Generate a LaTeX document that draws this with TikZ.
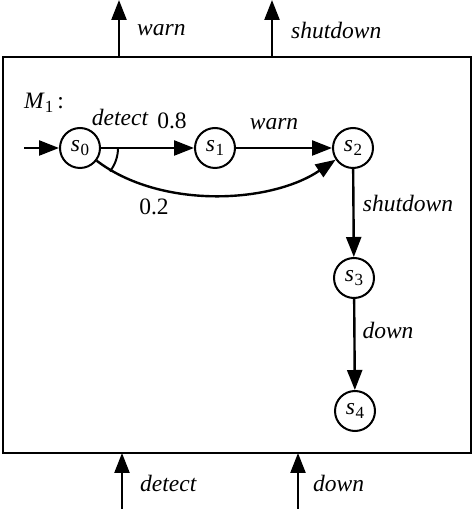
\documentclass[tikz,border=0pt]{standalone}
\usepackage{fontspec}
\setmainfont{Liberation Serif}
\usetikzlibrary{arrows.meta}
\newcommand{\stl}[1]{\textit{s}\kern0.5pt\raisebox{-0.4ex}{\fontsize{17}{17}\selectfont #1}}
\begin{document}
\begin{tikzpicture}[x=1pt,y=1pt,
  every node/.style={font=\fontsize{23.5}{27}\selectfont},
  state/.style={draw,circle,line width=2pt,minimum size=40pt,inner sep=0pt},
  edge/.style={line width=2.4pt,-{Triangle[length=20pt,width=15pt]}},
  lbl/.style={font=\fontsize{23.5}{27}\selectfont\itshape,inner sep=0pt},
  num/.style={font=\fontsize{23.5}{27}\selectfont,inner sep=0pt}]
\useasboundingbox (0,0) rectangle (474,509);
\draw[line width=2.6pt] (3,56) rectangle (471,452);
% top outputs
\coordinate (t1a) at (119,452); \coordinate (t1b) at (119,509);
\coordinate (t2a) at (272,452); \coordinate (t2b) at (272,509);
\draw[edge] (t1a) -- (t1b);
\draw[edge] (t2a) -- (t2b);
\node[lbl,anchor=west] (ow) at (137,479) {warn};
\node[lbl,anchor=west] (os) at (291,479) {shutdown};
% bottom inputs
\coordinate (b1a) at (122,0); \coordinate (b1b) at (122,56);
\coordinate (b2a) at (298,0); \coordinate (b2b) at (298,56);
\draw[edge] (b1a) -- (b1b);
\draw[edge] (b2a) -- (b2b);
\node[lbl,anchor=west] (id) at (140,26) {detect};
\node[lbl,anchor=west] (idn) at (313,26) {down};
% states
\node[state] (s0) at (80,361) {\stl{0}};
\node[state] (s1) at (215,361) {\stl{1}};
\node[state] (s2) at (353,361) {\stl{2}};
\node[state] (s3) at (354,231) {\stl{3}};
\node[state] (s4) at (355,98) {\stl{4}};
\node[inner sep=0pt] (m1) at (44,406) {\textit{M}\raisebox{-0.4ex}{\fontsize{17}{17}\selectfont 1}\,:};
\coordinate (init) at (24,361);
\draw[edge] (init) -- (s0);
\draw[edge] (s0) -- (s1);
\draw[edge] (s1) -- (s2);
\draw[edge] (s0) .. controls (160,300) and (270,305) .. (s2);
\draw[edge] (s2) -- (s3);
\draw[edge] (s3) -- (s4);
\draw[line width=2pt] ([shift={(0:38)}]s0.center) arc[start angle=0,end angle=-38,radius=38];
\node[lbl] (ld) at (120,392) {detect};
\node[num] (l8) at (172,388) {0.8};
\node[lbl] (lw) at (274,385) {warn};
\node[num] (l2) at (154,302) {0.2};
\node[lbl] (ls) at (408,306) {shutdown};
\node[lbl] (ldn) at (388,179) {down};
\end{tikzpicture}
\end{document}
